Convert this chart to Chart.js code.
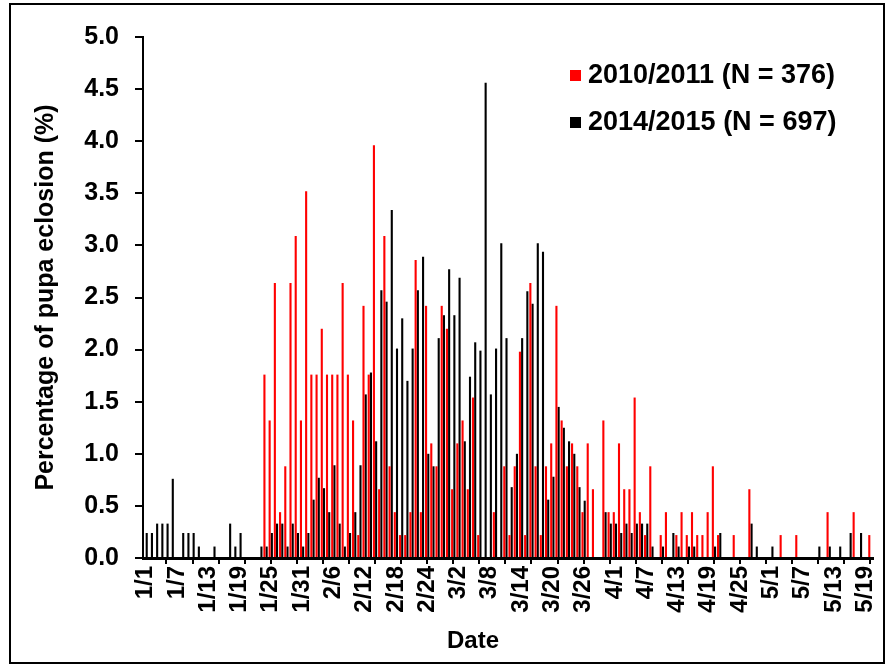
<!DOCTYPE html>
<html><head><meta charset="utf-8">
<script src="https://cdn.jsdelivr.net/npm/chart.js@4/dist/chart.umd.min.js"></script>
<style>html,body{margin:0;padding:0;background:#fff;}#wrap{width:890px;height:667px;position:relative;}</style>
</head><body><div id="wrap"><canvas id="c" width="890" height="667"></canvas></div>
<script>
// Categories: daily dates from 1/1 to 5/20
const monthLengths = [31, 28, 31, 30, 20];
const dates = [];
monthLengths.forEach((n, m) => { for (let d = 1; d <= n; d++) dates.push((m + 1) + '/' + d); });

const seriesNames = ['2010/2011 (N = 376)', '2014/2015 (N = 697)'];

// Percentage of pupa eclosion, 2010/2011 (red)
const pct2010 = [
  0,0,0,0,0,0,0,0,0,0,
  0,0,0,0,0,0,0,0,0,0,
  0,0,0,1.76,1.32,2.64,0.44,0.88,2.64,3.09,
  1.32,3.52,1.76,1.76,2.20,1.76,1.76,1.76,2.64,1.76,
  1.32,0.22,2.42,1.76,3.96,0.66,3.09,0.88,0.44,0.22,
  0.22,0.44,2.86,0.44,2.42,1.10,0.88,2.42,2.20,0.66,
  1.10,1.32,0.66,1.54,0.22,0,0,0.44,0,0.88,
  0.22,0.88,1.98,0.22,2.64,0.88,0.22,0.88,1.10,2.42,
  1.32,0.88,1.10,0.88,0.44,1.10,0.66,0,1.32,0.44,
  0.44,1.10,0.66,0.66,1.54,0.44,0.22,0.88,0,0.22,
  0.44,0,0.22,0.44,0.22,0.44,0.22,0.22,0.44,0.88,
  0.22,0,0,0.22,0,0,0.66,0,0,0,
  0,0,0.22,0,0,0.22,0,0,0,0,
  0,0.44,0,0,0,0,0.44,0,0,0.22
];
// Percentage of pupa eclosion, 2014/2015 (black)
const pct2014 = [
  0.24,0.24,0.33,0.33,0.33,0.76,0,0.24,0.24,0.24,
  0.11,0,0,0.11,0,0,0.33,0.11,0.24,0,
  0,0,0.11,0.11,0.24,0.33,0.33,0.11,0.33,0.24,
  0.11,0.24,0.56,0.77,0.67,0.44,0.89,0.33,0.11,0.24,
  0.44,0.89,1.57,1.78,1.12,2.57,2.46,3.34,2.01,2.30,
  1.70,2.01,2.57,2.89,1.00,0.88,2.11,2.33,2.77,2.33,
  2.69,1.12,1.74,2.07,1.99,4.56,1.57,2.01,3.02,2.11,
  0.68,1.00,2.11,2.56,2.44,3.02,2.94,0.56,0.78,1.45,
  1.25,1.12,1.00,0.68,0.55,0,0,0,0.44,0.33,
  0.33,0.24,0.33,0.24,0.33,0.33,0.33,0.11,0,0.11,
  0,0.24,0.11,0,0.11,0.11,0,0,0,0.11,
  0.24,0,0,0,0,0,0.33,0.11,0,0,
  0.11,0,0,0,0,0,0,0,0,0.11,
  0,0.11,0,0.11,0,0.24,0,0.24,0,0
];

const FONT = '"Liberation Sans", Arial, sans-serif';

const framePlugin = {
  id: 'frame',
  beforeDraw(chart) {
    const c = chart.ctx;
    c.save();
    c.fillStyle = '#fff';
    c.fillRect(0, 0, chart.width, chart.height);
    c.strokeStyle = '#000';
    c.lineWidth = 2;
    c.strokeRect(10, 4, 874, 659);
    c.restore();
  }
};

const legendPlugin = {
  id: 'insideLegend',
  afterDraw(chart) {
    const c = chart.ctx;
    c.save();
    chart.data.datasets.forEach((ds, i) => {
      const y = 75 + i * 47;
      c.fillStyle = ds.backgroundColor;
      c.fillRect(570, y - 5, 11, 11);
      c.fillStyle = '#000';
      c.font = 'bold 27px ' + FONT;
      c.textBaseline = 'middle';
      c.textAlign = 'left';
      c.fillText(ds.label, 588, y + 1);
    });
    c.restore();
  }
};

const xTitlePlugin = {
  id: 'xTitle',
  afterDraw(chart) {
    const c = chart.ctx;
    c.save();
    c.fillStyle = '#000';
    c.font = 'bold 24px ' + FONT;
    c.textAlign = 'center';
    c.textBaseline = 'middle';
    c.fillText(chart.options.scales.x.title.text, 473, 641);
    c.restore();
  }
};

new Chart(document.getElementById('c'), {
  type: 'bar',
  data: {
    labels: dates,
    datasets: [
      { label: seriesNames[0], data: pct2010, backgroundColor: '#FF0000', categoryPercentage: 0.85, barPercentage: 0.95 },
      { label: seriesNames[1], data: pct2014, backgroundColor: '#000000', categoryPercentage: 0.85, barPercentage: 0.95 }
    ]
  },
  options: {
    responsive: false,
    animation: false,
    devicePixelRatio: 1,
    layout: { padding: { left: 12, right: 17, top: 37, bottom: 8 } },
    plugins: { legend: { display: false }, tooltip: { enabled: false } },
    scales: {
      x: {
        offset: true,
        grid: {
          offset: false, drawOnChartArea: false, drawTicks: true, tickLength: 6, lineWidth: 2,
          color: (ctx) => (ctx.index % 5 === 4 ? '#000' : 'rgba(0,0,0,0)')
        },
        border: { color: '#000', width: 3 },
        ticks: {
          autoSkip: false, maxRotation: 90, minRotation: 90, padding: 2, color: '#000',
          font: { family: FONT, size: 24, weight: 'bold' },
          callback: (v, i) => (i % 6 === 0 ? dates[i] : '')
        },
        title: { display: false, text: 'Date' },
        afterFit: (s) => { s.height = 101; s.paddingLeft = 0; s.paddingRight = 0; }
      },
      y: {
        min: 0, max: 5,
        ticks: {
          stepSize: 0.5, padding: 16, color: '#000',
          font: { family: FONT, size: 25, weight: 'bold' },
          callback: (v) => Number(v).toFixed(1)
        },
        grid: { drawOnChartArea: false, tickLength: 8, color: '#000', lineWidth: 2 },
        border: { color: '#000', width: 2 },
        title: {
          display: true, text: 'Percentage of pupa eclosion (%)', color: '#000',
          font: { family: FONT, size: 25, weight: 'bold' }, padding: { top: 19, bottom: 0 }
        },
        afterFit: (s) => { s.width = 131; s.paddingTop = 0; s.paddingBottom = 0; }
      }
    }
  },
  plugins: [framePlugin, legendPlugin, xTitlePlugin]
});
</script></body></html>
